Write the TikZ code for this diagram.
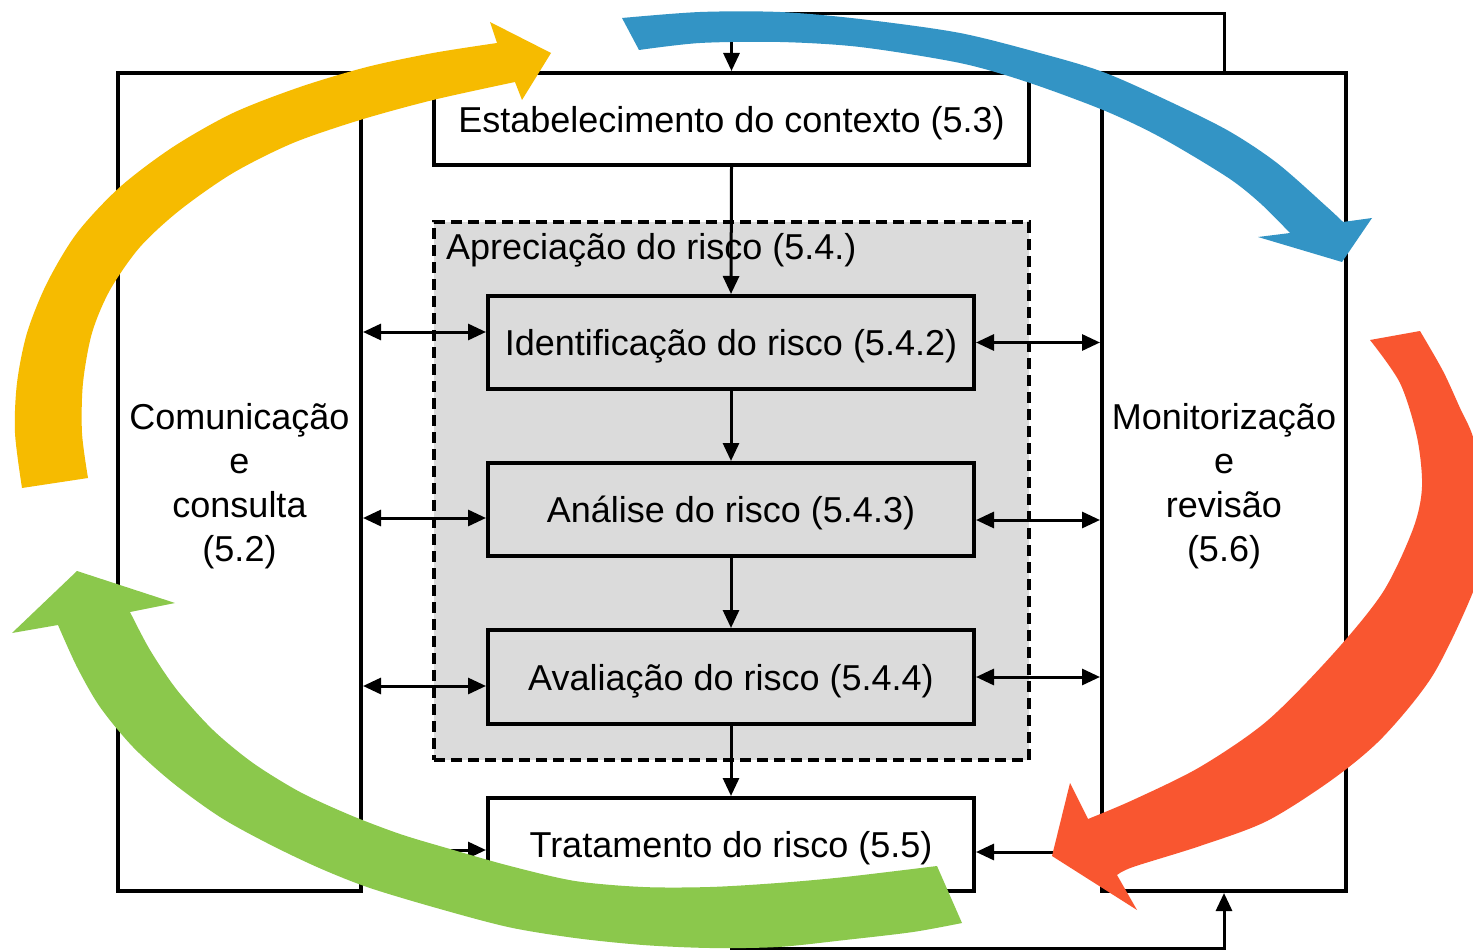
\documentclass[tikz,border=0pt]{standalone}
\usepackage{fontspec}
\setmainfont{Liberation Sans}
\usetikzlibrary{arrows.meta}
\definecolor{cyel}{RGB}{246,187,0}
\definecolor{cblu}{RGB}{51,148,197}
\definecolor{cora}{RGB}{249,86,48}
\definecolor{cgre}{RGB}{139,200,76}
\definecolor{cgry}{RGB}{219,219,219}
\begin{document}
\begin{tikzpicture}[x=1pt,y=-1pt,
  >={Triangle[length=18pt,width=16pt]},
  txt/.style={font=\fontsize{36}{44}\selectfont, align=center, text depth=0pt},
  box/.style={draw, line width=4pt, inner sep=0pt, txt},
  conn/.style={line width=3pt}]
\useasboundingbox (0,0) rectangle (1473,952);
\fill[white] (0,0) rectangle (1473,952);
\clip (0,0) rectangle (1473,952);

% assessment frame
\node[draw, dash pattern=on 11pt off 6pt, line width=3.5pt, fill=cgry,
      minimum width=595pt, minimum height=538pt, inner sep=0pt] (apr) at (731.5,491) {};
\node[txt, anchor=west, inner sep=0pt] (aprl) at (446,246) {Apreciação do risco (5.4.)};

% boxes
\node[box, minimum width=243pt, minimum height=818pt] (com) at (239.5,482) {Comunicação\\e\\consulta\\(5.2)};
\node[box, minimum width=244pt, minimum height=818pt] (mon) at (1224,482) {Monitorização\\e\\revisão\\(5.6)};
\node[box, fill=white, minimum width=595pt, minimum height=92pt] (est) at (731.5,119) {Estabelecimento do contexto (5.3)};
\node[box, fill=cgry, minimum width=486pt, minimum height=93pt] (ide) at (731,342.5) {Identificação do risco (5.4.2)};
\node[box, fill=cgry, minimum width=486pt, minimum height=93pt] (ana) at (731,509.5) {Análise do risco (5.4.3)};
\node[box, fill=cgry, minimum width=486pt, minimum height=94pt] (ava) at (731,677) {Avaliação do risco (5.4.4)};
\node[box, fill=white, minimum width=486pt, minimum height=93pt] (tra) at (731,844.5) {Tratamento do risco (5.5)};

% connectors
\draw[conn,->] (mon.north) -- (mon.north |- 0,14) -| (est.north);
\draw[conn,->] (est.south) -- (ide.north);
\draw[conn,->] (ide.south) -- (ana.north);
\draw[conn,->] (ana.south) -- (ava.north);
\draw[conn,->] (ava.south) -- (tra.north);
\draw[conn,->] (tra.south) -- (tra.south |- 0,948) -| (mon.south);
\draw[conn,<->] (com.east |- 0,332) -- (ide.west |- 0,332);
\draw[conn,<->] (ide.east) -- (mon.west |- ide.east);
\draw[conn,<->] (com.east |- 0,518) -- (ana.west |- 0,518);
\draw[conn,<->] (ana.east |- 0,520) -- (mon.west |- 0,520);
\draw[conn,<->] (com.east |- 0,686) -- (ava.west |- 0,686);
\draw[conn,<->] (ava.east) -- (mon.west |- ava.east);
\draw[conn,->] (com.east |- 0,850) -- (tra.west |- 0,850);
\draw[conn,->] (mon.west |- 0,852) -- (tra.east |- 0,852);

% yellow arrow
\fill[cyel] plot[smooth] coordinates {(22,488) (15,433) (17,383) (27,333) (47,283) (77,233) (120,187) (173,147) (233,113) (300,87) (367,67) (433,53) (497,43)}
  -- (490,22) -- (551,53) -- (522,100)
  -- plot[smooth] coordinates {(515,82) (433,100) (360,120) (293,143) (233,173) (180,210) (140,247) (110,290) (92,333) (83,383) (82,433) (88,478)} -- cycle;
% blue arrow
\fill[cblu] plot[smooth] coordinates {(622,18) (700,12) (780,12) (860,19) (960,33) (1047,55) (1103,72) (1160,97) (1227,130) (1277,163) (1327,207) (1343,222)}
  -- (1372,218) -- (1342,262) -- (1258,237)
  -- plot[smooth] coordinates {(1290,233) (1260,203) (1227,177) (1160,137) (1103,110) (1027,82) (960,63) (860,47) (780,42) (700,43) (639,50)} -- cycle;
% orange arrow
\fill[cora] plot[smooth] coordinates {(1420,331) (1443,371) (1460,408) (1473,437) (1485,490) (1487,540) (1473,592) (1433,675) (1383,737) (1333,779) (1267,821) (1200,846) (1133,867) (1117,875)}
  -- (1137,910) -- (1052,856) -- (1070,783)
  -- plot[smooth] coordinates {(1088,819) (1133,800) (1200,767) (1267,721) (1333,654) (1383,592) (1413,529) (1422,487) (1417,437) (1400,383) (1370,340)} -- cycle;
% green arrow
\fill[cgre] plot[smooth] coordinates {(962,923) (913,932) (845,940) (778,947) (710,948) (643,945) (575,938) (508,927) (433,907) (367,887) (317,867) (267,843) (220,817) (173,783) (133,747) (100,707) (77,667) (58,625)}
  -- (12,633) -- (77,571) -- (175,603)
  -- plot[smooth] coordinates {(130,612) (150,650) (177,690) (213,730) (253,763) (300,792) (350,815) (400,834) (450,849) (510,866) (575,881) (643,887) (710,887) (778,883) (845,877) (937,866)} -- cycle;
\end{tikzpicture}
\end{document}
